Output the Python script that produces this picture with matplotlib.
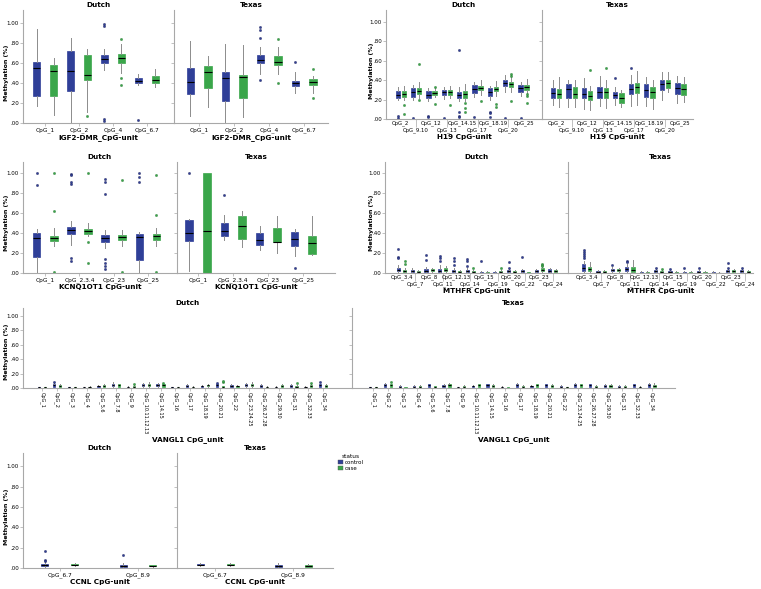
import matplotlib
matplotlib.use("Agg")
import matplotlib.pyplot as plt
from matplotlib.patches import Patch

# box stats per CpG unit: [lower whisker, q1, median, q3, upper whisker]
IGF2_UNITS = ['CpG_1', 'CpG_2', 'CpG_4', 'CpG_6.7']
IGF2_DUTCH_CONTROL = [[0.17, 0.27, 0.55, 0.61, 0.94], [0.0, 0.32, 0.52, 0.72, 0.85],
                      [0.53, 0.60, 0.64, 0.68, 0.74], [0.38, 0.40, 0.42, 0.45, 0.49]]
IGF2_DUTCH_CONTROL_OUT = [[], [], [0.97, 0.99, 0.02, 0.04], [0.03]]
IGF2_DUTCH_CASE = [[0.08, 0.27, 0.52, 0.58, 0.65], [0.11, 0.43, 0.48, 0.68, 0.74],
                   [0.50, 0.60, 0.65, 0.69, 0.79], [0.36, 0.40, 0.43, 0.47, 0.54]]
IGF2_DUTCH_CASE_OUT = [[], [0.07], [0.84, 0.45, 0.38], []]
IGF2_TEXAS_CONTROL = [[0.07, 0.29, 0.41, 0.55, 0.82], [0.0, 0.22, 0.45, 0.51, 0.79],
                      [0.49, 0.60, 0.63, 0.68, 0.76], [0.30, 0.37, 0.40, 0.42, 0.51]]
IGF2_TEXAS_CONTROL_OUT = [[], [], [0.43, 0.85, 0.93, 0.96], [0.61]]
IGF2_TEXAS_CASE = [[0.16, 0.35, 0.51, 0.57, 0.67], [0.06, 0.25, 0.46, 0.48, 0.78],
                   [0.49, 0.58, 0.61, 0.67, 0.76], [0.30, 0.38, 0.41, 0.44, 0.47]]
IGF2_TEXAS_CASE_OUT = [[], [], [0.40, 0.84], [0.25, 0.54]]

H19_UNITS = ['CpG_2', 'CpG_9.10', 'CpG_12', 'CpG_13', 'CpG_14.15', 'CpG_17',
             'CpG_18.19', 'CpG_20', 'CpG_25']
H19_DUTCH_CONTROL = [[0.20, 0.22, 0.25, 0.29, 0.33], [0.20, 0.23, 0.28, 0.32, 0.35],
                     [0.19, 0.22, 0.25, 0.29, 0.32], [0.21, 0.25, 0.28, 0.30, 0.33],
                     [0.18, 0.22, 0.25, 0.28, 0.33], [0.23, 0.27, 0.31, 0.35, 0.38],
                     [0.20, 0.24, 0.28, 0.32, 0.34], [0.28, 0.34, 0.37, 0.40, 0.45],
                     [0.24, 0.28, 0.32, 0.35, 0.38]]
H19_DUTCH_CONTROL_OUT = [[0.03, 0.01], [0.01], [0.03, 0.02], [0.01], [0.71, 0.07, 0.03, 0.02],
                         [0.02], [0.07, 0.06, 0.02], [0.01], [0.01]]
H19_DUTCH_CASE = [[0.20, 0.23, 0.26, 0.29, 0.34], [0.22, 0.26, 0.29, 0.32, 0.38],
                  [0.23, 0.25, 0.27, 0.29, 0.33], [0.22, 0.25, 0.28, 0.30, 0.34],
                  [0.19, 0.22, 0.26, 0.29, 0.36], [0.25, 0.30, 0.32, 0.34, 0.40],
                  [0.24, 0.29, 0.31, 0.33, 0.39], [0.28, 0.33, 0.36, 0.38, 0.45],
                  [0.25, 0.30, 0.33, 0.35, 0.41]]
H19_DUTCH_CASE_OUT = [[0.14, 0.05], [0.57, 0.20], [0.33, 0.15], [0.14], [0.16, 0.11, 0.07],
                      [0.18], [0.15, 0.12], [0.46, 0.44, 0.19], [0.26, 0.24, 0.16]]
H19_TEXAS_CONTROL = [[0.14, 0.22, 0.27, 0.32, 0.40], [0.12, 0.22, 0.31, 0.36, 0.40],
                     [0.10, 0.22, 0.26, 0.32, 0.42], [0.13, 0.22, 0.28, 0.33, 0.44],
                     [0.14, 0.22, 0.25, 0.28, 0.33], [0.13, 0.26, 0.31, 0.36, 0.45],
                     [0.13, 0.23, 0.30, 0.36, 0.43], [0.20, 0.30, 0.36, 0.40, 0.48],
                     [0.16, 0.26, 0.32, 0.37, 0.44]]
H19_TEXAS_CONTROL_OUT = [[], [], [], [], [0.42], [0.52], [], [], []]
H19_TEXAS_CASE = [[0.12, 0.22, 0.26, 0.31, 0.43], [0.12, 0.22, 0.26, 0.33, 0.40],
                  [0.09, 0.20, 0.24, 0.29, 0.34], [0.11, 0.22, 0.28, 0.32, 0.40],
                  [0.12, 0.16, 0.22, 0.27, 0.30], [0.14, 0.27, 0.33, 0.37, 0.49],
                  [0.10, 0.22, 0.28, 0.33, 0.40], [0.28, 0.32, 0.37, 0.40, 0.48],
                  [0.17, 0.25, 0.31, 0.36, 0.43]]
H19_TEXAS_CASE_OUT = [[], [], [0.50], [0.52], [], [], [], [], []]

KCNQ_UNITS = ['CpG_1', 'CpG_2.3.4', 'CpG_23', 'CpG_25']
KCNQ_DUTCH_CONTROL = [[0.0, 0.16, 0.35, 0.40, 0.44], [0.28, 0.39, 0.43, 0.46, 0.52],
                      [0.25, 0.31, 0.35, 0.38, 0.43], [0.0, 0.13, 0.36, 0.39, 0.41]]
KCNQ_DUTCH_CONTROL_OUT = [[1.0, 0.88], [0.99, 0.98, 0.91, 0.89, 0.15, 0.12],
                          [0.94, 0.91, 0.79, 0.14, 0.10, 0.07, 0.04], [1.0, 0.96, 0.91]]
KCNQ_DUTCH_CASE = [[0.27, 0.32, 0.35, 0.37, 0.45], [0.37, 0.39, 0.42, 0.44, 0.50],
                   [0.27, 0.33, 0.36, 0.38, 0.43], [0.27, 0.33, 0.37, 0.39, 0.45]]
KCNQ_DUTCH_CASE_OUT = [[1.0, 0.62, 0.01], [1.0, 0.31, 0.10], [0.93, 0.01], [0.98, 0.58, 0.01]]
KCNQ_TEXAS_CONTROL = [[0.02, 0.32, 0.40, 0.53, 0.54], [0.33, 0.37, 0.42, 0.50, 0.58],
                      [0.23, 0.28, 0.33, 0.40, 0.47], [0.17, 0.27, 0.34, 0.41, 0.44]]
KCNQ_TEXAS_CONTROL_OUT = [[1.0], [0.78], [], [0.05]]
KCNQ_TEXAS_CASE = [[0.0, 0.0, 0.42, 1.0, 1.0], [0.26, 0.34, 0.47, 0.57, 0.62],
                   [0.20, 0.31, 0.31, 0.45, 0.57], [0.18, 0.19, 0.30, 0.37, 0.57]]
KCNQ_TEXAS_CASE_OUT = [[], [], [], []]

MTHFR_UNITS = ['CpG_3.4', 'CpG_7', 'CpG_8', 'CpG_11', 'CpG_12.13', 'CpG_14', 'CpG_15',
               'CpG_19', 'CpG_20', 'CpG_22', 'CpG_23', 'CpG_24']
MTHFR_DUTCH_CONTROL = [[0.0, 0.02, 0.03, 0.05, 0.08], [0.0, 0.01, 0.02, 0.03, 0.05],
                       [0.0, 0.01, 0.02, 0.04, 0.06], [0.0, 0.01, 0.02, 0.04, 0.08],
                       [0.0, 0.01, 0.02, 0.03, 0.05], [0.0, 0.01, 0.02, 0.03, 0.05],
                       [0.0, 0.0, 0.005, 0.01, 0.02], [0.0, 0.0, 0.005, 0.01, 0.02],
                       [0.0, 0.01, 0.02, 0.03, 0.04], [0.0, 0.01, 0.02, 0.03, 0.04],
                       [0.0, 0.01, 0.02, 0.03, 0.04], [0.0, 0.01, 0.02, 0.04, 0.05]]
MTHFR_DUTCH_CONTROL_OUT = [[0.24, 0.16, 0.15], [], [0.18, 0.13], [0.17, 0.15, 0.12],
                           [0.15, 0.12, 0.08], [0.14, 0.12, 0.07], [0.12], [],
                           [0.11, 0.05], [0.16], [], []]
MTHFR_DUTCH_CASE = [[0.0, 0.01, 0.02, 0.03, 0.05], [0.0, 0.0, 0.01, 0.02, 0.03],
                    [0.0, 0.02, 0.03, 0.04, 0.05], [0.0, 0.02, 0.03, 0.05, 0.07],
                    [0.0, 0.01, 0.015, 0.02, 0.03], [0.0, 0.01, 0.015, 0.02, 0.03],
                    [0.0, 0.0, 0.005, 0.01, 0.02], [0.0, 0.01, 0.015, 0.02, 0.03],
                    [0.0, 0.01, 0.015, 0.02, 0.03], [0.0, 0.0, 0.005, 0.01, 0.01],
                    [0.0, 0.02, 0.03, 0.05, 0.06], [0.0, 0.01, 0.02, 0.03, 0.04]]
MTHFR_DUTCH_CASE_OUT = [[0.12, 0.09], [], [], [], [], [0.05], [], [0.05], [], [],
                        [0.09, 0.08, 0.07], []]
MTHFR_TEXAS_CONTROL = [[0.0, 0.02, 0.05, 0.09, 0.12], [0.0, 0.0, 0.01, 0.02, 0.03],
                       [0.0, 0.02, 0.03, 0.04, 0.06], [0.0, 0.02, 0.04, 0.06, 0.09],
                       [0.0, 0.0, 0.005, 0.01, 0.02], [0.0, 0.01, 0.02, 0.03, 0.04],
                       [0.0, 0.0, 0.01, 0.02, 0.03], [0.0, 0.0, 0.005, 0.01, 0.02],
                       [0.0, 0.0, 0.01, 0.02, 0.03], [0.0, 0.0, 0.005, 0.01, 0.02],
                       [0.0, 0.01, 0.02, 0.03, 0.04], [0.0, 0.01, 0.02, 0.03, 0.04]]
MTHFR_TEXAS_CONTROL_OUT = [[0.23, 0.21, 0.19, 0.17, 0.15], [], [0.08], [0.12, 0.11],
                           [], [0.05], [0.04], [0.05], [0.05], [], [0.10, 0.05], [0.05]]
MTHFR_TEXAS_CASE = [[0.0, 0.02, 0.04, 0.06, 0.11], [0.0, 0.01, 0.015, 0.02, 0.03],
                    [0.0, 0.02, 0.03, 0.04, 0.05], [0.0, 0.01, 0.03, 0.06, 0.13],
                    [0.0, 0.0, 0.005, 0.01, 0.02], [0.0, 0.0, 0.01, 0.02, 0.03],
                    [0.0, 0.0, 0.005, 0.01, 0.02], [0.0, 0.0, 0.005, 0.01, 0.02],
                    [0.0, 0.0, 0.005, 0.01, 0.02], [0.0, 0.0, 0.003, 0.005, 0.01],
                    [0.0, 0.01, 0.02, 0.03, 0.04], [0.0, 0.0, 0.01, 0.02, 0.03]]
MTHFR_TEXAS_CASE_OUT = [[], [], [], [], [], [0.04], [], [], [], [], [], []]

VANGL1_UNITS = ['CpG_1', 'CpG_2', 'CpG_3', 'CpG_4', 'CpG_5.6', 'CpG_7.8', 'CpG_9',
                'CpG_10.11.12.13', 'CpG_14.15', 'CpG_16', 'CpG_17', 'CpG_18.19',
                'CpG_20.21', 'CpG_22', 'CpG_23.24.25', 'CpG_26.27.28', 'CpG_29.30',
                'CpG_31', 'CpG_32.33', 'CpG_34']
VANGL1_DUTCH_CONTROL = [[0.0, 0.005, 0.008, 0.01, 0.015], [0.01, 0.02, 0.04, 0.05, 0.08],
                        [0.0, 0.005, 0.008, 0.01, 0.015], [0.005, 0.01, 0.012, 0.015, 0.02],
                        [0.01, 0.02, 0.025, 0.03, 0.04], [0.02, 0.03, 0.04, 0.05, 0.08],
                        [0.005, 0.01, 0.015, 0.02, 0.03], [0.02, 0.03, 0.045, 0.06, 0.07],
                        [0.02, 0.03, 0.045, 0.06, 0.07], [0.0, 0.005, 0.008, 0.01, 0.015],
                        [0.01, 0.02, 0.03, 0.04, 0.05], [0.01, 0.02, 0.025, 0.03, 0.04],
                        [0.01, 0.02, 0.035, 0.05, 0.06], [0.01, 0.02, 0.03, 0.04, 0.05],
                        [0.02, 0.03, 0.04, 0.05, 0.07], [0.01, 0.02, 0.03, 0.04, 0.05],
                        [0.005, 0.01, 0.015, 0.02, 0.03], [0.01, 0.02, 0.03, 0.04, 0.05],
                        [0.005, 0.01, 0.015, 0.02, 0.03], [0.01, 0.02, 0.035, 0.05, 0.06]]
VANGL1_DUTCH_CONTROL_OUT = [[], [0.09], [], [], [], [], [], [], [], [], [], [],
                            [0.07], [], [], [], [], [], [], [0.08]]
VANGL1_DUTCH_CASE = [[0.0, 0.005, 0.008, 0.01, 0.015], [0.01, 0.02, 0.03, 0.04, 0.06],
                     [0.0, 0.005, 0.008, 0.01, 0.015], [0.005, 0.01, 0.015, 0.02, 0.025],
                     [0.01, 0.02, 0.03, 0.04, 0.05], [0.01, 0.02, 0.035, 0.05, 0.06],
                     [0.005, 0.01, 0.02, 0.03, 0.04], [0.02, 0.03, 0.045, 0.06, 0.08],
                     [0.01, 0.02, 0.035, 0.05, 0.06], [0.005, 0.008, 0.01, 0.012, 0.015],
                     [0.005, 0.01, 0.015, 0.02, 0.03], [0.02, 0.03, 0.035, 0.04, 0.05],
                     [0.01, 0.015, 0.02, 0.025, 0.03], [0.01, 0.02, 0.025, 0.03, 0.04],
                     [0.02, 0.03, 0.045, 0.06, 0.08], [0.005, 0.01, 0.015, 0.02, 0.03],
                     [0.01, 0.02, 0.03, 0.04, 0.05], [0.005, 0.01, 0.02, 0.03, 0.04],
                     [0.01, 0.02, 0.03, 0.04, 0.05], [0.01, 0.02, 0.03, 0.04, 0.06]]
VANGL1_DUTCH_CASE_OUT = [[], [], [], [], [], [], [0.05], [], [0.07], [], [], [],
                         [0.08, 0.10], [], [], [], [], [0.07], [0.07], []]
VANGL1_TEXAS_CONTROL = [[0.0, 0.005, 0.008, 0.01, 0.015], [0.01, 0.02, 0.035, 0.05, 0.07],
                        [0.005, 0.01, 0.02, 0.03, 0.035], [0.005, 0.01, 0.02, 0.03, 0.035],
                        [0.01, 0.02, 0.035, 0.05, 0.06], [0.01, 0.02, 0.03, 0.04, 0.06],
                        [0.005, 0.008, 0.01, 0.012, 0.015], [0.01, 0.02, 0.025, 0.03, 0.04],
                        [0.01, 0.02, 0.035, 0.05, 0.06], [0.005, 0.01, 0.015, 0.02, 0.025],
                        [0.01, 0.02, 0.04, 0.06, 0.07], [0.01, 0.02, 0.025, 0.03, 0.04],
                        [0.01, 0.02, 0.035, 0.05, 0.06], [0.005, 0.01, 0.02, 0.03, 0.035],
                        [0.01, 0.02, 0.035, 0.05, 0.07], [0.01, 0.02, 0.035, 0.05, 0.06],
                        [0.01, 0.02, 0.03, 0.04, 0.05], [0.005, 0.01, 0.02, 0.03, 0.035],
                        [0.01, 0.02, 0.035, 0.05, 0.06], [0.01, 0.02, 0.035, 0.05, 0.07]]
VANGL1_TEXAS_CONTROL_OUT = [[] for _ in VANGL1_UNITS]
VANGL1_TEXAS_CASE = [[0.0, 0.005, 0.008, 0.01, 0.015], [0.01, 0.02, 0.035, 0.05, 0.06],
                     [0.0, 0.003, 0.005, 0.007, 0.01], [0.005, 0.01, 0.02, 0.03, 0.035],
                     [0.01, 0.015, 0.02, 0.025, 0.03], [0.01, 0.02, 0.035, 0.05, 0.07],
                     [0.005, 0.01, 0.02, 0.03, 0.035], [0.01, 0.02, 0.035, 0.05, 0.06],
                     [0.005, 0.01, 0.025, 0.04, 0.05], [0.0, 0.003, 0.005, 0.007, 0.01],
                     [0.005, 0.01, 0.02, 0.03, 0.035], [0.01, 0.02, 0.035, 0.05, 0.06],
                     [0.01, 0.02, 0.03, 0.04, 0.05], [0.0, 0.005, 0.008, 0.01, 0.015],
                     [0.01, 0.02, 0.035, 0.05, 0.06], [0.005, 0.01, 0.02, 0.03, 0.035],
                     [0.01, 0.02, 0.03, 0.04, 0.05], [0.005, 0.01, 0.02, 0.03, 0.035],
                     [0.005, 0.01, 0.015, 0.02, 0.025], [0.01, 0.02, 0.03, 0.04, 0.07]]
VANGL1_TEXAS_CASE_OUT = [[], [0.08], [], [], [], [], [], [], [], [], [], [], [], [],
                         [], [], [], [], [], []]

CCNL_UNITS = ['CpG_6.7', 'CpG_8.9']
CCNL_DUTCH_CONTROL = [[0.0, 0.02, 0.03, 0.04, 0.06], [0.0, 0.01, 0.02, 0.03, 0.05]]
CCNL_DUTCH_CONTROL_OUT = [[0.17, 0.08, 0.07], [0.13]]
CCNL_DUTCH_CASE = [[0.02, 0.025, 0.03, 0.04, 0.05], [0.01, 0.015, 0.02, 0.025, 0.03]]
CCNL_DUTCH_CASE_OUT = [[], []]
CCNL_TEXAS_CONTROL = [[0.02, 0.028, 0.032, 0.038, 0.045], [0.0, 0.01, 0.02, 0.025, 0.05]]
CCNL_TEXAS_CONTROL_OUT = [[], []]
CCNL_TEXAS_CASE = [[0.02, 0.028, 0.033, 0.038, 0.045], [0.005, 0.012, 0.02, 0.025, 0.035]]
CCNL_TEXAS_CASE_OUT = [[], []]

BLUE = '#2f3f98'
GREEN = '#3aa64a'
AXC = '#a8a8a8'
W, H = 761, 589

fig = plt.figure(figsize=(W / 100, H / 100), dpi=100)


def ax_px(x0, y0, x1, y1):
    return fig.add_axes([x0 / W, 1 - y1 / H, (x1 - x0) / W, (y1 - y0) / H])


def draw(ax, units, ctrl, ctrl_out, case, case_out, off, bw, lpad, rpad, ytop,
         title, xlabel, show_y=True, mode='plain', ylab_x=7):
    n = len(units)
    for stats_list, outs, color, sgn in [(ctrl, ctrl_out, BLUE, -1), (case, case_out, GREEN, 1)]:
        stats = []
        for (lo, q1, med, q3, hi), fl in zip(stats_list, outs):
            stats.append(dict(whislo=lo, q1=q1, med=med, q3=q3, whishi=hi, fliers=fl))
        pos = [i + sgn * off for i in range(n)]
        ax.bxp(stats, positions=pos, widths=bw, patch_artist=True, showcaps=False,
               boxprops=dict(facecolor=color, edgecolor=color, linewidth=0.5),
               medianprops=dict(color='black', linewidth=0.8),
               whiskerprops=dict(color='#8c8c8c', linewidth=0.7),
               flierprops=dict(marker='o', markersize=1.6, markerfacecolor=color,
                               markeredgecolor='#1c2258' if sgn < 0 else '#2a7a35',
                               markeredgewidth=0.3))
    ax.set_xlim(-lpad, n - 1 + rpad)
    ax.set_ylim(0, ytop)
    for s in ['top', 'right']:
        ax.spines[s].set_visible(False)
    for s in ['left', 'bottom']:
        ax.spines[s].set_color(AXC)
        ax.spines[s].set_linewidth(0.8)
    yt = [0, 0.2, 0.4, 0.6, 0.8, 1.0]
    ax.set_yticks(yt)
    if show_y:
        ax.set_yticklabels(['%.2f' % v if v >= 1 else ('%.2f' % v)[1:] for v in yt])
        # place the y label by hand so it stays inside the figure
        bb = ax.get_position()
        yc = bb.y0 + bb.height * (0.5 / ytop)
        fig.text(ylab_x / W, yc, 'Methylation (%)', rotation=90, ha='center', va='center',
                 fontsize=4.5, fontweight='bold')
    else:
        ax.set_yticklabels([])
    ax.tick_params(axis='y', length=2, width=0.5, color=AXC, labelsize=4.0, pad=1)
    ax.set_title(title, fontsize=5.2, fontweight='bold', pad=2)
    if mode == 'stagger':
        ax.set_xticks(list(range(1, n, 2)))
        ax.set_xticklabels(units[1::2])
        ax.set_xticks(list(range(0, n, 2)), minor=True)
        ax.set_xticklabels(units[0::2], minor=True)
        ax.tick_params(axis='x', which='major', length=5.5, width=0.5, color=AXC,
                       labelsize=3.9, pad=0.5)
        ax.tick_params(axis='x', which='minor', length=0, labelsize=3.9, pad=1)
    elif mode == 'rotate':
        ax.set_xticks(range(n))
        ax.set_xticklabels(units, rotation=-90, va='top', ha='center')
        ax.tick_params(axis='x', length=2, width=0.5, color=AXC, labelsize=3.5, pad=1)
    else:
        ax.set_xticks(range(n))
        ax.set_xticklabels(units)
        ax.tick_params(axis='x', length=2, width=0.5, color=AXC, labelsize=4.2, pad=1)
    ax.set_xlabel(xlabel, fontsize=5.2, fontweight='bold', labelpad=1)
    ax.set_facecolor('none')


# row 1: IGF2-DMR and H19
draw(ax_px(23, 10, 174, 123), IGF2_UNITS, IGF2_DUTCH_CONTROL, IGF2_DUTCH_CONTROL_OUT,
     IGF2_DUTCH_CASE, IGF2_DUTCH_CASE_OUT, 0.25, 0.22, 0.65, 0.8, 1.13,
     'Dutch', 'IGF2-DMR_CpG-unit')
draw(ax_px(174, 10, 328, 123), IGF2_UNITS, IGF2_TEXAS_CONTROL, IGF2_TEXAS_CONTROL_OUT,
     IGF2_TEXAS_CASE, IGF2_TEXAS_CASE_OUT, 0.25, 0.22, 0.72, 0.68, 1.13,
     'Texas', 'IGF2-DMR_CpG-unit', show_y=False)
draw(ax_px(386, 10, 542, 119), H19_UNITS, H19_DUTCH_CONTROL, H19_DUTCH_CONTROL_OUT,
     H19_DUTCH_CASE, H19_DUTCH_CASE_OUT, 0.2, 0.28, 0.96, 1.2, 1.12,
     'Dutch', 'H19 CpG-unit', mode='stagger', ylab_x=372)
draw(ax_px(542, 10, 693, 119), H19_UNITS, H19_TEXAS_CONTROL, H19_TEXAS_CONTROL_OUT,
     H19_TEXAS_CASE, H19_TEXAS_CASE_OUT, 0.2, 0.28, 0.9, 0.8, 1.12,
     'Texas', 'H19 CpG-unit', show_y=False, mode='stagger')

# row 2: KCNQ1OT1 and MTHFR
draw(ax_px(23, 162, 177, 273), KCNQ_UNITS, KCNQ_DUTCH_CONTROL, KCNQ_DUTCH_CONTROL_OUT,
     KCNQ_DUTCH_CASE, KCNQ_DUTCH_CASE_OUT, 0.25, 0.22, 0.65, 0.85, 1.11,
     'Dutch', 'KCNQ1OT1 CpG-unit')
draw(ax_px(177, 162, 335, 273), KCNQ_UNITS, KCNQ_TEXAS_CONTROL, KCNQ_TEXAS_CONTROL_OUT,
     KCNQ_TEXAS_CASE, KCNQ_TEXAS_CASE_OUT, 0.25, 0.22, 0.6, 0.9, 1.11,
     'Texas', 'KCNQ1OT1 CpG-unit', show_y=False)
draw(ax_px(385, 162, 568, 273), MTHFR_UNITS, MTHFR_DUTCH_CONTROL, MTHFR_DUTCH_CONTROL_OUT,
     MTHFR_DUTCH_CASE, MTHFR_DUTCH_CASE_OUT, 0.22, 0.22, 1.2, 1.1, 1.11,
     'Dutch', 'MTHFR CpG-unit', mode='stagger', ylab_x=371)
draw(ax_px(568, 162, 753, 273), MTHFR_UNITS, MTHFR_TEXAS_CONTROL, MTHFR_TEXAS_CONTROL_OUT,
     MTHFR_TEXAS_CASE, MTHFR_TEXAS_CASE_OUT, 0.22, 0.22, 1.3, 0.55, 1.11,
     'Texas', 'MTHFR CpG-unit', show_y=False, mode='stagger')

# row 3: VANGL1
draw(ax_px(23, 308, 352, 388), VANGL1_UNITS, VANGL1_DUTCH_CONTROL, VANGL1_DUTCH_CONTROL_OUT,
     VANGL1_DUTCH_CASE, VANGL1_DUTCH_CASE_OUT, 0.2, 0.15, 1.3, 1.95, 1.11,
     'Dutch', 'VANGL1 CpG_unit', mode='rotate')
draw(ax_px(352, 308, 675, 388), VANGL1_UNITS, VANGL1_TEXAS_CONTROL, VANGL1_TEXAS_CONTROL_OUT,
     VANGL1_TEXAS_CASE, VANGL1_TEXAS_CASE_OUT, 0.2, 0.15, 1.45, 1.6, 1.11,
     'Texas', 'VANGL1 CpG_unit', show_y=False, mode='rotate')

# row 4: CCNL
draw(ax_px(23, 453, 177, 568), CCNL_UNITS, CCNL_DUTCH_CONTROL, CCNL_DUTCH_CONTROL_OUT,
     CCNL_DUTCH_CASE, CCNL_DUTCH_CASE_OUT, 0.19, 0.09, 0.47, 0.5, 1.13,
     'Dutch', 'CCNL CpG-unit')
draw(ax_px(177, 453, 333, 568), CCNL_UNITS, CCNL_TEXAS_CONTROL, CCNL_TEXAS_CONTROL_OUT,
     CCNL_TEXAS_CASE, CCNL_TEXAS_CASE_OUT, 0.19, 0.09, 0.49, 0.51, 1.13,
     'Texas', 'CCNL CpG-unit', show_y=False)

handles = [Patch(facecolor=BLUE, edgecolor='#555555', linewidth=0.3),
           Patch(facecolor=GREEN, edgecolor='#555555', linewidth=0.3)]
leg = fig.legend(handles, ['control', 'case'], title='status', loc='upper left',
                 bbox_to_anchor=(334 / W, 1 - 450 / H), fontsize=4, title_fontsize=4.2,
                 frameon=False, handlelength=0.9, handleheight=0.8, handletextpad=0.3,
                 labelspacing=0.15, borderpad=0.2)

fig.savefig('out.png', dpi=100)
